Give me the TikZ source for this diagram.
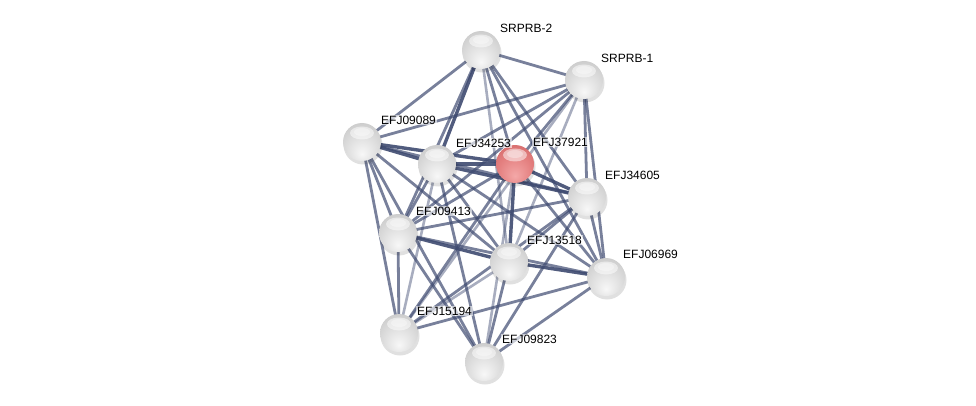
\documentclass[tikz,border=0pt]{standalone}
\usepackage{fontspec}
\setmainfont{Liberation Sans}
\usetikzlibrary{calc}
\definecolor{redA}{HTML}{F4A8A8}
\definecolor{redB}{HTML}{E48080}
\definecolor{redC}{HTML}{D06464}
\definecolor{redD}{HTML}{B84C4C}
\definecolor{redE}{HTML}{8E3C3C}
\pgfdeclareradialshading{greyball}{\pgfpoint{0bp}{-16bp}}{color(0bp)=(black!3); color(22bp)=(black!14); color(42bp)=(black!24); color(56bp)=(black!38); color(66bp)=(black!58)}
\pgfdeclareradialshading{redball}{\pgfpoint{0bp}{-16bp}}{color(0bp)=(redA); color(22bp)=(redB); color(42bp)=(redC); color(56bp)=(redD); color(66bp)=(redE)}
\tikzset{
  prot/.style={circle, minimum size=38pt, inner sep=0pt, shading=greyball},
  protred/.style={circle, minimum size=38pt, inner sep=0pt, shading=redball},
  lab/.style={anchor=west, inner sep=1pt, font=\fontsize{12}{14}\selectfont, fill=white, fill opacity=0.6, text opacity=1},
  e/.style={draw=edgecol, line width=2.8pt, draw opacity=0.7},
  ed/.style={draw=edgecol, line width=3.4pt, draw opacity=0.9},
  el/.style={draw=edgecol, line width=2.6pt, draw opacity=0.45},
}
\definecolor{edgecol}{HTML}{3E4A70}
\begin{document}
\begin{tikzpicture}[x=1pt,y=-1pt]
\useasboundingbox (0,0) rectangle (976,406);
% node coordinates
\coordinate (s2) at (481,50);
\coordinate (s1) at (584,80);
\coordinate (n089) at (362,142);
\coordinate (n253) at (437,164);
\coordinate (n921) at (515,164);
\coordinate (n605) at (587,197);
\coordinate (n413) at (398,233);
\coordinate (n518) at (509,262);
\coordinate (n969) at (606,277);
\coordinate (n194) at (399,333);
\coordinate (n823) at (484,362);
% edges
\path[e] (s2)--(s1);
\path[e] (s2)--(n089);
\path[ed] (s2)--(n253);
\path[e] (s2)--(n921);
\path[e] (s2)--(n605);
\path[e] (s2)--(n413);
\path[el] (s2)--(n518);
\path[e] (s2)--(n969);
\path[e] (s1)--(n089);
\path[e] (s1)--(n253);
\path[e] (s1)--(n921);
\path[e] (s1)--(n605);
\path[e] (s1)--(n969);
\path[el] (s1)--(n518);
\path[e] (s1)--(n413);
\path[el] (s1)--(n194);
\path[ed] (n089)--(n253);
\path[ed] (n089)--(n921);
\path[e] (n089)--(n605);
\path[e] (n089)--(n413);
\path[e] (n089)--(n518);
\path[e] (n089)--(n194);
\path[e] (n089)--(n823);
\path[ed] (n253)--(n921);
\path[ed] (n253)--(n605);
\path[e] (n253)--(n413);
\path[e] (n253)--(n518);
\path[e] (n253)--(n969);
\path[el] (n253)--(n194);
\path[e] (n253)--(n823);
\path[ed] (n921)--(n605);
\path[e] (n921)--(n413);
\path[ed] (n921)--(n518);
\path[e] (n921)--(n969);
\path[e] (n921)--(n194);
\path[el] (n921)--(n823);
\path[e] (n605)--(n413);
\path[e] (n605)--(n518);
\path[e] (n605)--(n969);
\path[e] (n605)--(n823);
\path[e] (n605)--(n194);
\path[ed] (n413)--(n518);
\path[e] (n413)--(n969);
\path[e] (n413)--(n194);
\path[e] (n413)--(n823);
\path[ed] (n518)--(n969);
\path[el] (n518)--(n194);
\path[e] (n518)--(n823);
\path[e] (n969)--(n194);
\path[e] (n969)--(n823);
% nodes
\foreach \c/\s in {s2/prot,s1/prot,n089/prot,n253/prot,n921/protred,n605/prot,n413/prot,n518/prot,n969/prot,n194/prot,n823/prot}{
  \fill[black, opacity=0.12] ($(\c)+(1,3)$) circle (19.5);
  \node[\s] (N\c) at (\c) {};
  \fill[white, opacity=0.5] ($(\c)+(0,-9)$) ellipse (12 and 6.5);
  \fill[white, opacity=0.35] ($(\c)+(0,-10)$) ellipse (8 and 4);
}
% labels
\node[lab] (L1) at (499,28) {SRPRB-2};
\node[lab] (L2) at (600,58) {SRPRB-1};
\node[lab] (L3) at (380,120) {EFJ09089};
\node[lab] (L4) at (455,143) {EFJ34253};
\node[lab] (L5) at (532,142) {EFJ37921};
\node[lab] (L6) at (604,175) {EFJ34605};
\node[lab] (L7) at (415,211) {EFJ09413};
\node[lab] (L8) at (526,240) {EFJ13518};
\node[lab] (L9) at (622,254) {EFJ06969};
\node[lab] (L10) at (416,311) {EFJ15194};
\node[lab] (L11) at (501,339) {EFJ09823};
\end{tikzpicture}
\end{document}
